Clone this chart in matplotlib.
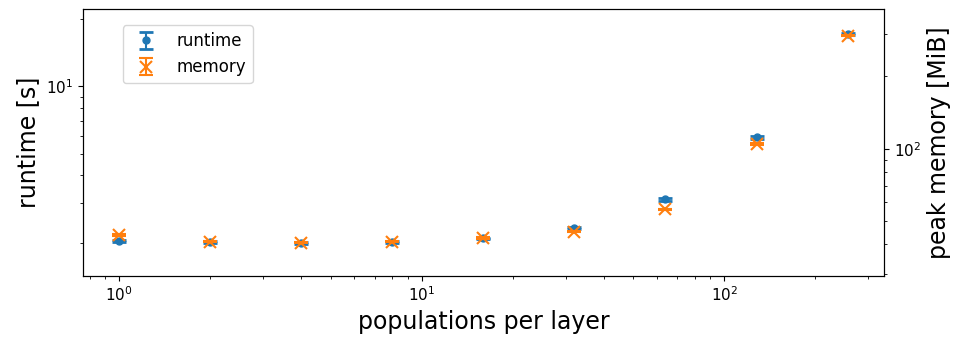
import numpy as np
import matplotlib
matplotlib.use("Agg")
import matplotlib.pyplot as plt

populations = [1, 2, 4, 8, 16, 32, 64, 128, 256]
runtime = [2.04, 2.01, 2.00, 2.01, 2.09, 2.33, 3.13, 5.93, 17.1]
runtime_std = [0.02, 0.02, 0.02, 0.02, 0.02, 0.03, 0.04, 0.08, 0.2]
memory = [43.7, 41.0, 40.6, 41.0, 42.4, 45.1, 55.9, 104.6, 296.0]
memory_std = [0.3, 0.3, 0.3, 0.3, 0.3, 0.3, 0.4, 0.6, 1.0]

plt.rcParams.update({"xtick.labelsize": 11, "ytick.labelsize": 11})

fig, ax = plt.subplots(figsize=(9.58, 3.38), dpi=100)
fig.subplots_adjust(left=0.0863, right=0.9228, top=0.9734, bottom=0.1834)

h1 = ax.errorbar(populations, runtime, yerr=runtime_std, fmt="o", color="C0",
                 markersize=5, capsize=5, capthick=2, label="runtime")
ax.set_xscale("log")
ax.set_yscale("log")
ax.set_ylim(1.42, 22.2)
ax.set_xlabel("populations per layer", fontsize=17)
ax.set_ylabel("runtime [s]", fontsize=17)

ax2 = ax.twinx()
h2 = ax2.errorbar(populations, memory, yerr=memory_std, fmt="x", color="C1",
                  markersize=8, markeredgewidth=1.5, capsize=5, capthick=1.5,
                  label="memory")
ax2.set_yscale("log")
ax2.set_ylim(29.5, 382)
ax2.set_ylabel("peak memory [MiB]", fontsize=17)

ax2.legend([h1, h2], ["runtime", "memory"], loc="upper left",
           bbox_to_anchor=(0.04, 0.97), fontsize=12)

fig.savefig("out.png", dpi=100)
